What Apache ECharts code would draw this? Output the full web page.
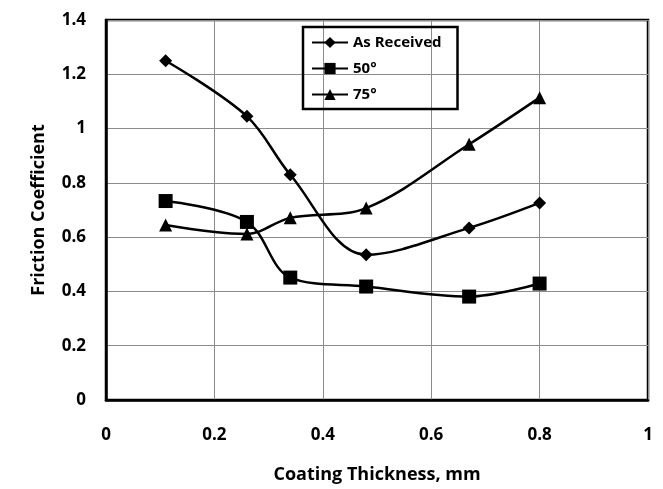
<!DOCTYPE html>
<html>
<head>
<meta charset="utf-8">
<script src="https://cdn.jsdelivr.net/npm/echarts@6/dist/echarts.min.js"></script>
<style>
  html, body { margin: 0; padding: 0; background: #fff; }
  #main { width: 663px; height: 489px; }
</style>
</head>
<body>
<div id="main"></div>
<script>
var thickness = [0.11, 0.26, 0.34, 0.48, 0.67, 0.80];
var asReceived = [1.25, 1.045, 0.83, 0.535, 0.634, 0.726];
var deg50 = [0.733, 0.656, 0.451, 0.418, 0.381, 0.429];
var deg75 = [0.645, 0.612, 0.671, 0.707, 0.942, 1.114];

function pairs(ys) {
    return thickness.map(function (x, i) { return [x, ys[i]]; });
}

var font = '"Open Sans", "Liberation Sans", sans-serif';

~function () {
    var myChart = echarts.init(document.getElementById('main'));
    var lineStyle = {color: '#000', width: 2.5};
    var option = {
        animation: false,
        grid: {
            left: 106, right: 15, top: 20, bottom: 87,
            show: true, borderColor: '#000', borderWidth: 2.5
        },
        legend: {
            orient: 'vertical',
            left: 303,
            top: 27,
            padding: [8, 16, 7, 8],
            borderColor: '#000',
            borderWidth: 2.5,
            itemWidth: 36,
            itemHeight: 14,
            itemGap: 11,
            textStyle: {fontFamily: font, fontWeight: 'bold', fontSize: 15, color: '#000'},
            data: ['As Received', '50°', '75°']
        },
        xAxis: {
            type: 'value',
            min: 0, max: 1, interval: 0.2,
            name: 'Coating Thickness, mm',
            nameLocation: 'middle',
            nameGap: 66,
            nameTextStyle: {fontFamily: font, fontWeight: 'bold', fontSize: 18, color: '#000'},
            axisLine: {lineStyle: {color: '#000', width: 2.5}},
            axisTick: {show: false},
            axisLabel: {margin: 27, fontFamily: font, fontWeight: 'bold', fontSize: 17, color: '#000'},
            splitLine: {lineStyle: {color: '#8c8c8c', width: 1}}
        },
        yAxis: {
            type: 'value',
            min: 0, max: 1.4, interval: 0.2,
            name: 'Friction Coefficient',
            nameLocation: 'middle',
            nameGap: 58,
            nameTextStyle: {fontFamily: font, fontWeight: 'bold', fontSize: 18, color: '#000'},
            axisLine: {show: true, lineStyle: {color: '#000', width: 2.5}},
            axisTick: {show: false},
            axisLabel: {margin: 20, fontFamily: font, fontWeight: 'bold', fontSize: 17, color: '#000'},
            splitLine: {lineStyle: {color: '#8c8c8c', width: 1}}
        },
        series: [
            {
                name: 'As Received',
                type: 'line',
                smooth: 0.35,
                symbol: 'diamond',
                symbolSize: 13,
                itemStyle: {color: '#000'},
                lineStyle: lineStyle,
                data: pairs(asReceived)
            },
            {
                name: '50°',
                type: 'line',
                smooth: 0.35,
                symbol: 'rect',
                symbolSize: 14,
                itemStyle: {color: '#000'},
                lineStyle: lineStyle,
                data: pairs(deg50)
            },
            {
                name: '75°',
                type: 'line',
                smooth: 0.35,
                symbol: 'triangle',
                symbolSize: 13,
                itemStyle: {color: '#000'},
                lineStyle: lineStyle,
                data: pairs(deg75)
            }
        ]
    };
    myChart.setOption(option);
}();
</script>
</body>
</html>
